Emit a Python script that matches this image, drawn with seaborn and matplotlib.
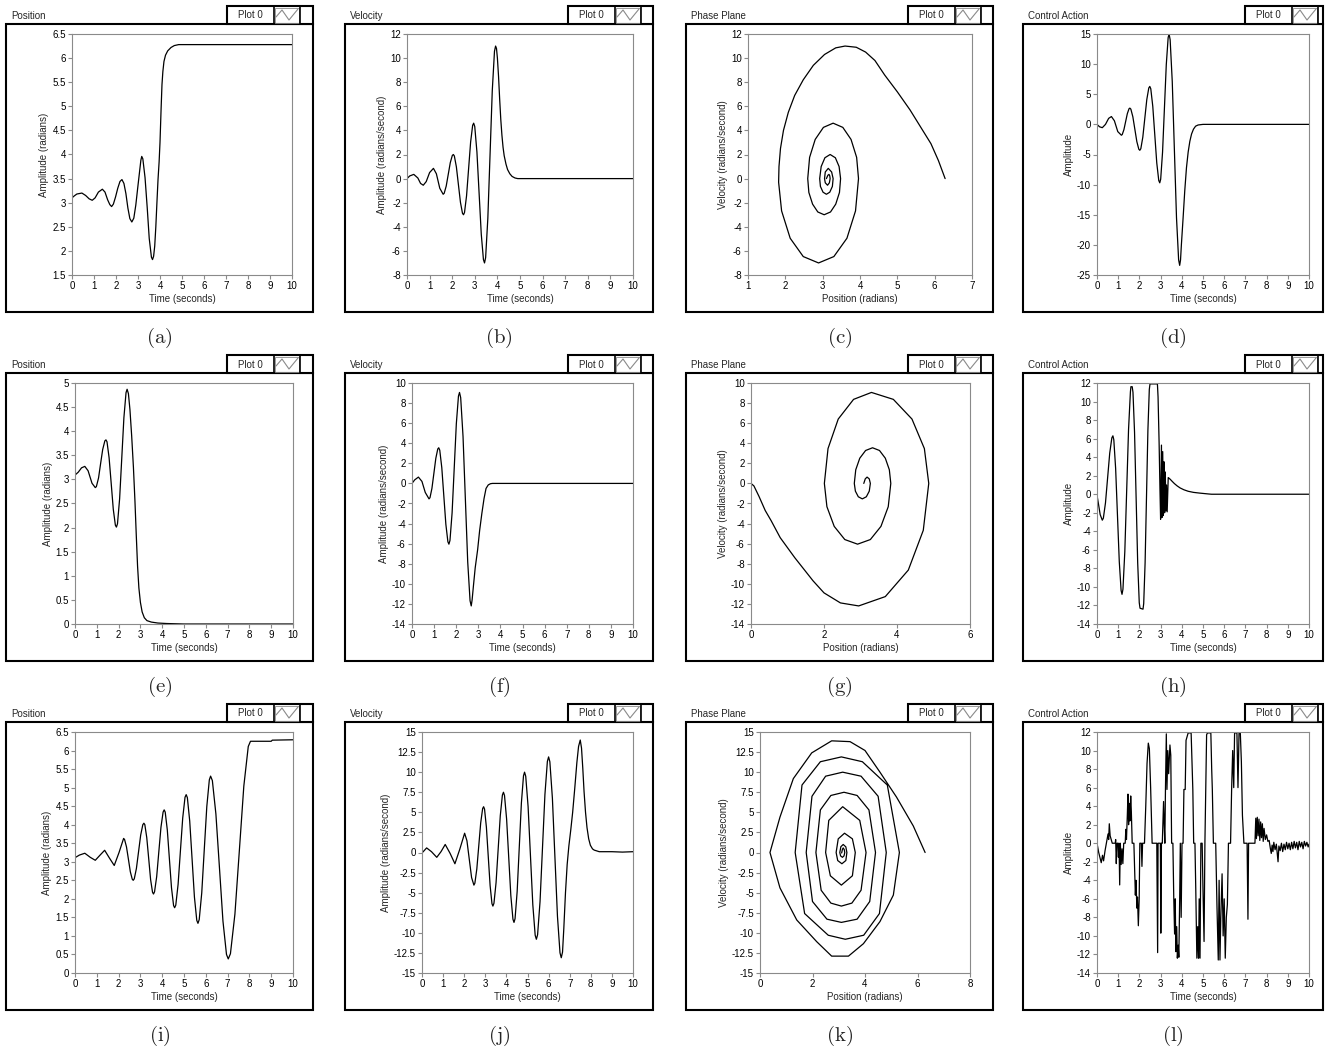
"""
LabVIEW-style pendulum swing-up panels: position, velocity, phase plane,
control action for three controller runs (a)-(l).
"""

import matplotlib
matplotlib.use("Agg")
import matplotlib.pyplot as plt
from matplotlib.patches import Rectangle
from matplotlib.ticker import MultipleLocator, FuncFormatter
import seaborn as sns


# ──────────────────────────────────────────────
# 1. DATA  ((t, value) or (position, velocity))
# ──────────────────────────────────────────────

pos_a = [(0.00, 3.10), (0.10, 3.14), (0.22, 3.18), (0.45, 3.20), (0.62, 3.15), (0.78, 3.08),
         (0.92, 3.05), (1.05, 3.10), (1.20, 3.22), (1.38, 3.28), (1.50, 3.22), (1.62, 3.06),
         (1.72, 2.96), (1.80, 2.92), (1.88, 2.97), (1.98, 3.12), (2.08, 3.30), (2.18, 3.44),
         (2.27, 3.48), (2.36, 3.40), (2.45, 3.19), (2.54, 2.89), (2.63, 2.67), (2.72, 2.60),
         (2.81, 2.68), (2.90, 2.95), (2.99, 3.32), (3.08, 3.68), (3.13, 3.88), (3.17, 3.96),
         (3.22, 3.91), (3.32, 3.52), (3.42, 2.89), (3.51, 2.26), (3.61, 1.87), (3.66, 1.82),
         (3.71, 1.89), (3.76, 2.10), (3.81, 2.50), (3.86, 3.00), (3.91, 3.48), (3.96, 3.85),
         (4.00, 4.25), (4.05, 4.95), (4.09, 5.45), (4.13, 5.72), (4.18, 5.93), (4.25, 6.06),
         (4.35, 6.15), (4.50, 6.22), (4.65, 6.26), (4.85, 6.28), (10.0, 6.28)]

vel_b = [(0.00, 0.00), (0.12, 0.22), (0.30, 0.35), (0.48, 0.05), (0.60, -0.40), (0.72, -0.55),
         (0.85, -0.25), (1.00, 0.50), (1.17, 0.85), (1.30, 0.40), (1.45, -0.80), (1.60, -1.30),
         (1.645, -1.22), (1.735, -0.62), (1.825, 0.35), (1.915, 1.32), (2.005, 1.92), (2.05, 2.00),
         (2.095, 1.88), (2.185, 0.97), (2.275, -0.50), (2.365, -1.97), (2.455, -2.88), (2.50, -3.00),
         (2.545, -2.81), (2.635, -1.43), (2.725, 0.80), (2.815, 3.03), (2.905, 4.42), (2.95, 4.60),
         (2.998, 4.32), (3.094, 2.21), (3.19, -1.20), (3.286, -4.61), (3.382, -6.72), (3.43, -7.00),
         (3.479, -6.56), (3.577, -3.29), (3.675, 2.00), (3.773, 7.29), (3.871, 10.57), (3.92, 11.00),
         (3.96, 10.80), (4.00, 10.00), (4.05, 8.50), (4.10, 6.60), (4.15, 4.90), (4.20, 3.60),
         (4.25, 2.60), (4.30, 1.90), (4.38, 1.20), (4.45, 0.75), (4.55, 0.40), (4.65, 0.18),
         (4.78, 0.05), (4.90, 0.00), (10.0, 0.00)]

phase_c = [(3.10, 0.00), (3.14, 0.28), (3.17, 0.35), (3.19, 0.22), (3.20, 0.00),
           (3.18, -0.35), (3.13, -0.55), (3.07, -0.35), (3.05, 0.00),
           (3.07, 0.55), (3.15, 0.85), (3.24, 0.55), (3.28, 0.00),
           (3.26, -0.65), (3.19, -1.13), (3.10, -1.30), (3.01, -1.13), (2.94, -0.65), (2.92, 0.00),
           (2.96, 1.00), (3.06, 1.73), (3.20, 2.00), (3.34, 1.73), (3.44, 1.00), (3.48, 0.00),
           (3.45, -1.15), (3.35, -2.12), (3.21, -2.77), (3.04, -3.00), (2.87, -2.77), (2.73, -2.12),
           (2.63, -1.15), (2.60, 0.00),
           (2.65, 1.76), (2.80, 3.25), (3.02, 4.25), (3.28, 4.60), (3.54, 4.25), (3.76, 3.25),
           (3.91, 1.76), (3.96, 0.00),
           (3.88, -2.68), (3.65, -4.95), (3.30, -6.47), (2.89, -7.00), (2.48, -6.47), (2.13, -4.95),
           (1.90, -2.68), (1.82, -0.30),
           (1.83, 1.00), (1.87, 2.50), (1.95, 4.00), (2.08, 5.50), (2.25, 6.90), (2.48, 8.20),
           (2.75, 9.40), (3.05, 10.30), (3.35, 10.85), (3.60, 11.00), (3.90, 10.90), (4.15, 10.50),
           (4.40, 9.80), (4.66, 8.60), (5.00, 7.20), (5.34, 5.70), (5.62, 4.30), (5.90, 2.90),
           (6.10, 1.50), (6.28, 0.00)]

ctrl_d = [(0.00, 0.00), (0.12, -0.40), (0.25, -0.55), (0.40, 0.00), (0.55, 1.00), (0.68, 1.30),
          (0.82, 0.60), (0.98, -1.20), (1.15, -1.80), (1.19, -1.69), (1.27, -0.87), (1.35, 0.45),
          (1.43, 1.77), (1.51, 2.59), (1.55, 2.70), (1.597, 2.53), (1.691, 1.26), (1.785, -0.80),
          (1.879, -2.86), (1.973, -4.13), (2.02, -4.30), (2.067, -4.04), (2.161, -2.12),
          (2.255, 1.00), (2.349, 4.12), (2.443, 6.04), (2.49, 6.30), (2.537, 5.91), (2.631, 3.00),
          (2.725, -1.70), (2.819, -6.40), (2.913, -9.31), (2.96, -9.70), (3.004, -9.10),
          (3.092, -4.61), (3.18, 2.65), (3.268, 9.91), (3.356, 14.40), (3.40, 15.00),
          (3.45, 14.06), (3.55, 7.09), (3.65, -4.20), (3.75, -15.49), (3.85, -22.48),
          (3.90, -23.40), (3.94, -22.50), (3.98, -20.00), (4.02, -17.80), (4.06, -15.60),
          (4.14, -11.00), (4.22, -7.20), (4.30, -4.60), (4.38, -2.80), (4.46, -1.60),
          (4.55, -0.80), (4.65, -0.30), (4.77, -0.10), (5.00, 0.00), (10.0, 0.00)]

pos_e = [(0.00, 3.09), (0.15, 3.15), (0.30, 3.24), (0.45, 3.27), (0.60, 3.18), (0.78, 2.92),
         (0.93, 2.83), (0.98, 2.85), (1.08, 3.03), (1.175, 3.33), (1.27, 3.62), (1.37, 3.80),
         (1.42, 3.82), (1.468, 3.78), (1.564, 3.45), (1.66, 2.92), (1.756, 2.38), (1.852, 2.05),
         (1.90, 2.01), (1.949, 2.08), (2.047, 2.60), (2.145, 3.44), (2.243, 4.28), (2.341, 4.80),
         (2.39, 4.87), (2.45, 4.78), (2.52, 4.45), (2.60, 3.90), (2.68, 3.25), (2.75, 2.55),
         (2.81, 1.85), (2.87, 1.20), (2.93, 0.75), (3.00, 0.45), (3.08, 0.25), (3.18, 0.13),
         (3.30, 0.07), (3.50, 0.04), (3.80, 0.02), (4.20, 0.01), (5.00, 0.00), (10.0, 0.00)]

vel_f = [(0.00, 0.00), (0.12, 0.35), (0.29, 0.63), (0.45, 0.20), (0.60, -0.90), (0.77, -1.54),
         (0.814, -1.42), (0.902, -0.49), (0.99, 1.00), (1.078, 2.50), (1.166, 3.43), (1.21, 3.55),
         (1.256, 3.31), (1.348, 1.57), (1.44, -1.25), (1.532, -4.07), (1.624, -5.81), (1.67, -6.05),
         (1.718, -5.68), (1.814, -2.94), (1.91, 1.50), (2.006, 5.95), (2.102, 8.69), (2.15, 9.06),
         (2.203, 8.54), (2.309, 4.68), (2.415, -1.57), (2.521, -7.82), (2.627, -11.68),
         (2.68, -12.20), (2.72, -11.60), (2.78, -10.20), (2.86, -8.40), (2.97, -6.60),
         (3.06, -4.70), (3.16, -3.00), (3.26, -1.50), (3.35, -0.50), (3.45, -0.15),
         (3.55, -0.03), (3.64, 0.00), (10.0, 0.00)]

phase_g = [(3.09, 0.00), (3.13, 0.45), (3.18, 0.63), (3.24, 0.45), (3.27, 0.00),
           (3.24, -0.77), (3.16, -1.33), (3.05, -1.54), (2.94, -1.33), (2.86, -0.77), (2.83, 0.00),
           (2.87, 1.36), (2.98, 2.51), (3.14, 3.28), (3.33, 3.55), (3.52, 3.28), (3.68, 2.51),
           (3.79, 1.36), (3.83, 0.00),
           (3.76, -2.32), (3.56, -4.28), (3.27, -5.59), (2.92, -6.05), (2.57, -5.59), (2.28, -4.28),
           (2.08, -2.32), (2.01, 0.00),
           (2.11, 3.47), (2.39, 6.41), (2.81, 8.37), (3.30, 9.06), (3.90, 8.37), (4.41, 6.41),
           (4.75, 3.47), (4.87, 0.00),
           (4.72, -4.67), (4.31, -8.63), (3.68, -11.27), (2.95, -12.20), (2.45, -11.90),
           (2.00, -10.90), (1.70, -9.70), (1.20, -7.40), (0.80, -5.40), (0.55, -3.70),
           (0.39, -2.70), (0.22, -1.30), (0.08, -0.25), (0.00, 0.00)]

ctrl_h = [(0.00, -0.10), (0.08, -1.20), (0.15, -2.20), (0.25, -2.80), (0.30, -2.58), (0.40, -0.93),
          (0.50, 1.75), (0.60, 4.43), (0.70, 6.08), (0.75, 6.30), (0.793, 5.88), (0.879, 2.78),
          (0.965, -2.25), (1.051, -7.28), (1.137, -10.38), (1.18, -10.80), (1.224, -10.25),
          (1.312, -6.19), (1.40, 0.40), (1.488, 6.99), (1.576, 11.05), (1.60, 11.60),
          (1.66, 11.60), (1.697, 11.00), (1.771, 6.68), (1.845, -0.35), (1.919, -7.38),
          (1.993, -11.70), (2.03, -12.30), (2.17, -12.40), (2.203, -11.80), (2.269, -7.40),
          (2.335, -0.25), (2.401, 6.90), (2.467, 11.30), (2.50, 11.90), (2.85, 11.90),
          (2.88, 10.50), (2.93, 5.50), (2.97, 0.50), (3.00, -2.70), (3.04, 5.30), (3.07, -2.50),
          (3.10, 4.60), (3.13, -2.30), (3.16, 3.50), (3.19, -2.00), (3.22, 2.40), (3.25, -1.80),
          (3.28, 1.00), (3.31, -1.90), (3.36, 1.80), (3.45, 1.62), (3.55, 1.38), (3.65, 1.15),
          (3.78, 0.90), (3.92, 0.68), (4.10, 0.48), (4.30, 0.32), (4.55, 0.20), (4.85, 0.12),
          (5.25, 0.03), (5.40, 0.00), (10.0, 0.00)]

pos_i = [(0.00, 3.11), (0.20, 3.18), (0.45, 3.23), (0.70, 3.12), (0.93, 3.04), (1.15, 3.18),
         (1.36, 3.31), (1.58, 3.10), (1.80, 2.90), (2.02, 3.25), (2.23, 3.63),
         (2.274, 3.60), (2.362, 3.40), (2.45, 3.07), (2.538, 2.73), (2.626, 2.53), (2.67, 2.50),
         (2.719, 2.54), (2.817, 2.82), (2.915, 3.27), (3.013, 3.72), (3.111, 4.00), (3.16, 4.04),
         (3.204, 4.00), (3.292, 3.65), (3.38, 3.09), (3.468, 2.52), (3.556, 2.18), (3.60, 2.13),
         (3.649, 2.19), (3.747, 2.60), (3.845, 3.27), (3.943, 3.93), (4.041, 4.34), (4.09, 4.40),
         (4.138, 4.34), (4.234, 3.86), (4.33, 3.08), (4.426, 2.30), (4.522, 1.82), (4.57, 1.76),
         (4.623, 1.83), (4.729, 2.39), (4.835, 3.29), (4.941, 4.18), (5.047, 4.74), (5.10, 4.81),
         (5.154, 4.73), (5.262, 4.10), (5.37, 3.08), (5.478, 2.05), (5.586, 1.42), (5.64, 1.34),
         (5.698, 1.44), (5.814, 2.16), (5.93, 3.33), (6.046, 4.49), (6.162, 5.21), (6.22, 5.31),
         (6.301, 5.19), (6.463, 4.29), (6.625, 2.85), (6.787, 1.40), (6.949, 0.50), (7.03, 0.38),
         (7.13, 0.52), (7.336, 1.59), (7.54, 3.31), (7.744, 5.04), (7.948, 6.11), (8.05, 6.25),
         (9.00, 6.25), (9.05, 6.28), (10.0, 6.29)]

vel_j = [(0.00, -0.06), (0.22, 0.57), (0.45, 0.10), (0.70, -0.60), (0.90, 0.10), (1.10, 1.00),
         (1.33, -0.10), (1.56, -1.40), (1.79, 0.40), (2.02, 2.40), (2.13, 1.46), (2.24, -0.83),
         (2.35, -3.12), (2.46, -4.06), (2.506, -3.82), (2.598, -2.05), (2.69, 0.82), (2.782, 3.69),
         (2.874, 5.47), (2.92, 5.70), (2.964, 5.40), (3.052, 3.15), (3.14, -0.49), (3.228, -4.12),
         (3.316, -6.37), (3.36, -6.67), (3.41, -6.32), (3.51, -3.75), (3.61, 0.42), (3.71, 4.58),
         (3.81, 7.15), (3.86, 7.50), (3.91, 7.10), (4.01, 4.16), (4.11, -0.60), (4.21, -5.36),
         (4.31, -8.30), (4.36, -8.70), (4.41, -8.24), (4.51, -4.85), (4.61, 0.65), (4.71, 6.15),
         (4.81, 9.54), (4.86, 10.00), (4.916, 9.49), (5.028, 5.72), (5.14, -0.40), (5.252, -6.52),
         (5.364, -10.30), (5.42, -10.80), (5.478, -10.24), (5.594, -6.12), (5.71, 0.55),
         (5.826, 7.22), (5.942, 11.34), (6.00, 11.90), (6.06, 11.29), (6.18, 6.75), (6.30, -0.60),
         (6.42, -7.95), (6.54, -12.49), (6.60, -13.10), (6.66, -12.40), (6.72, -9.50),
         (6.80, -5.00), (6.88, -1.50), (6.96, 0.80), (7.05, 2.80), (7.14, 5.00), (7.24, 8.00),
         (7.34, 11.20), (7.42, 13.20), (7.50, 14.00), (7.56, 13.00), (7.62, 10.50), (7.68, 7.60),
         (7.75, 5.00), (7.82, 3.10), (7.90, 1.70), (7.98, 0.90), (8.08, 0.45), (8.16, 0.30),
         (8.40, 0.10), (9.00, 0.10), (9.50, 0.05), (10.0, 0.10)]

phase_k = [(3.11, -0.06), (3.14, 0.40), (3.17, 0.57), (3.21, 0.35), (3.23, 0.00),
           (3.20, -0.42), (3.14, -0.60), (3.07, -0.42), (3.04, 0.00),
           (3.08, 0.72), (3.17, 1.00), (3.27, 0.70), (3.31, 0.00),
           (3.27, -1.00), (3.12, -1.40), (2.96, -1.00), (2.90, 0.00),
           (2.98, 1.70), (3.22, 2.40), (3.52, 1.70), (3.63, 0.00),
           (3.52, -2.90), (3.10, -4.06), (2.68, -2.90), (2.50, 0.00),
           (2.62, 4.00), (3.15, 5.70), (3.80, 4.00), (4.04, 0.00),
           (3.85, -4.70), (3.50, -6.30), (3.10, -6.67), (2.70, -6.30), (2.33, -4.70), (2.13, 0.00),
           (2.30, 5.30), (2.70, 7.10), (3.20, 7.50), (3.70, 7.10), (4.15, 5.30), (4.40, 0.00),
           (4.18, -6.10), (3.70, -8.30), (3.10, -8.70), (2.55, -8.30), (2.00, -6.10), (1.76, 0.00),
           (1.98, 7.00), (2.50, 9.50), (3.15, 10.00), (3.85, 9.50), (4.50, 7.00), (4.81, 0.00),
           (4.55, -7.60), (3.95, -10.30), (3.25, -10.80), (2.60, -10.30), (1.70, -7.60), (1.34, 0.00),
           (1.60, 8.40), (2.30, 11.30), (3.10, 11.90), (3.90, 11.30), (4.85, 8.40), (5.31, 0.00),
           (5.08, -5.30), (4.57, -8.60), (3.94, -11.35), (3.37, -12.90), (2.73, -12.90),
           (2.16, -11.10), (1.40, -8.40), (0.76, -4.40), (0.38, 0.00),
           (0.76, 4.40), (1.27, 9.20), (1.97, 12.40), (2.73, 13.90), (3.43, 13.80), (4.00, 12.70),
           (4.57, 10.00), (5.20, 6.90), (5.84, 3.30), (6.29, 0.00)]

ctrl_l = [(0.00, 0.0), (0.08, -1.0), (0.20, -2.1), (0.26, -1.3), (0.31, -1.9), (0.38, -0.8),
          (0.46, 0.2), (0.52, 1.0), (0.55, 0.4), (0.58, 2.1), (0.62, 0.8), (0.68, 0.3),
          (0.72, 0.0), (0.86, 0.0), (0.88, 0.4), (0.91, -2.2), (0.94, 0.0), (0.99, 0.0),
          (1.01, -1.5), (1.04, 0.0), (1.07, -4.5), (1.10, 0.0), (1.14, -2.3), (1.18, -0.6),
          (1.22, -2.2), (1.26, 0.0), (1.33, 0.0), (1.36, 1.5), (1.39, 0.4), (1.43, 3.0),
          (1.46, 5.3), (1.49, 2.0), (1.52, 4.3), (1.55, 2.4), (1.59, 5.1), (1.62, 3.4),
          (1.66, 0.0), (1.74, 0.0), (1.77, -2.5), (1.81, -5.6), (1.84, -4.0), (1.88, -7.0),
          (1.91, -5.8), (1.95, -8.9), (1.99, -6.0), (2.02, 0.0), (2.09, 0.0), (2.12, -2.5),
          (2.15, 0.0), (2.24, 0.0), (2.30, 4.0), (2.36, 8.6), (2.42, 10.8), (2.47, 10.2),
          (2.53, 6.0), (2.60, 0.0), (2.82, 0.0), (2.84, -6.0), (2.86, -11.8), (2.88, 0.0),
          (2.99, 0.0), (3.01, -9.7), (3.04, 0.0), (3.08, 0.0), (3.11, 2.2), (3.14, 4.5),
          (3.17, 2.0), (3.20, 0.0), (3.23, 6.0), (3.27, 11.8), (3.30, 5.8), (3.34, 10.0),
          (3.38, 7.5), (3.44, 10.6), (3.48, 9.5), (3.52, 0.0), (3.58, 0.0), (3.62, -5.8),
          (3.66, -9.8), (3.69, -6.0), (3.72, -11.7), (3.76, -9.0), (3.79, -12.4), (3.83, -11.0),
          (3.86, -12.3), (3.90, -6.0), (3.93, 0.0), (3.97, -8.0), (4.01, 0.0), (4.06, 0.0),
          (4.10, 5.8), (4.16, 5.8), (4.20, 11.1), (4.30, 11.9), (4.44, 11.9), (4.48, 9.0),
          (4.52, 5.8), (4.56, 0.0), (4.62, 0.0), (4.66, -5.1), (4.71, -12.4), (4.75, -9.0),
          (4.79, -12.4), (4.82, -6.0), (4.86, -12.4), (4.90, 0.0), (4.96, 0.0), (5.00, -5.1),
          (5.05, -10.6), (5.09, 0.0), (5.13, 6.0), (5.17, 11.7), (5.21, 11.9), (5.37, 11.9),
          (5.41, 8.0), (5.44, 5.8), (5.49, 0.0), (5.60, 0.0), (5.66, -6.9), (5.72, -12.6),
          (5.76, -4.0), (5.80, -12.6), (5.84, -8.0), (5.90, -3.3), (5.95, -10.0), (6.00, -6.0),
          (6.05, -12.4), (6.10, -8.0), (6.15, -6.6), (6.20, 0.0), (6.30, 0.0), (6.35, 5.8),
          (6.40, 10.0), (6.45, 6.0), (6.49, 11.9), (6.60, 11.9), (6.65, 6.0), (6.70, 11.9),
          (6.76, 11.9), (6.81, 8.8), (6.86, 3.0), (6.93, 0.0), (7.08, 0.0), (7.12, -8.2),
          (7.15, 0.0), (7.45, 0.0), (7.49, 2.7), (7.52, 0.5), (7.56, 2.8), (7.60, 0.8),
          (7.64, 2.6), (7.68, 0.3), (7.72, 2.3), (7.76, 0.6), (7.80, 2.1), (7.84, 0.2),
          (7.88, 1.6), (7.94, 0.4), (8.00, 0.9), (8.06, 0.2), (8.12, 0.3), (8.18, -0.6),
          (8.22, -1.1), (8.26, -0.2), (8.30, -0.9), (8.34, 0.1), (8.40, -0.7), (8.46, -0.1),
          (8.50, -1.0), (8.54, -2.0), (8.58, -0.3), (8.64, -0.8), (8.70, 0.0), (8.76, -0.9),
          (8.82, -0.1), (8.88, -0.7), (8.94, 0.1), (9.00, -0.6), (9.06, 0.0), (9.12, -0.7),
          (9.18, 0.1), (9.24, -0.6), (9.30, 0.2), (9.36, -0.5), (9.42, 0.1), (9.48, -0.7),
          (9.54, 0.2), (9.60, -0.4), (9.66, 0.1), (9.72, -0.6), (9.78, 0.2), (9.84, -0.3),
          (9.90, 0.1), (9.96, -0.4), (10.0, -0.1)]

TITLES = ["Position", "Velocity", "Phase Plane", "Control Action"]
YLABELS = ["Amplitude (radians)", "Amplitude (radians/second)",
           "Velocity (radians/second)", "Amplitude"]
XLABELS = ["Time (seconds)", "Time (seconds)", "Position (radians)", "Time (seconds)"]
CAPTIONS = "abcdefghijkl"

# per-panel data, axis limits and tick steps: (data, xlim, xstep, ylim, ystep)
PANELS = [
    (pos_a,   (0, 10), 1, (1.5, 6.5), 0.5),
    (vel_b,   (0, 10), 1, (-8, 12), 2),
    (phase_c, (1, 7),  1, (-8, 12), 2),
    (ctrl_d,  (0, 10), 1, (-25, 15), 5),
    (pos_e,   (0, 10), 1, (0, 5), 0.5),
    (vel_f,   (0, 10), 1, (-14, 10), 2),
    (phase_g, (0, 6),  2, (-14, 10), 2),
    (ctrl_h,  (0, 10), 1, (-14, 12), 2),
    (pos_i,   (0, 10), 1, (0, 6.5), 0.5),
    (vel_j,   (0, 10), 1, (-15, 15), 2.5),
    (phase_k, (0, 8),  2, (-15, 15), 2.5),
    (ctrl_l,  (0, 10), 1, (-14, 12), 2),
]


# ──────────────────────────────────────────────
# 2. LAYOUT (pixel geometry of the LabVIEW panels)
# ──────────────────────────────────────────────

W, H = 1333, 1053
COL_FRAME = [(6, 313), (345, 653), (686, 993), (1023, 1323)]
LEGEND_LEFT = [227, 568, 908, 1245]
ROW_TOP = [24, 373, 722]
PLOT_LR = [(72, 292), (407, 633), (748, 972), (1097, 1309),
           (75, 293), (412, 633), (751, 970), (1097, 1309),
           (75, 293), (422, 633), (760, 970), (1097, 1309)]

GRAY = "#8a8a8a"
FS = 7


def px_rect(left, top, right, bottom):
    return [left / W, 1 - bottom / H, (right - left) / W, (bottom - top) / H]


def tick_fmt(v, _pos):
    s = f"{round(v, 6):g}"
    return "0" if s == "-0" else s


# ──────────────────────────────────────────────
# 3. DRAW
# ──────────────────────────────────────────────

sns.set_theme(style="ticks")
plt.rcParams["font.family"] = ["Liberation Sans", "DejaVu Sans"]
plt.rcParams["axes.unicode_minus"] = False
plt.rcParams["mathtext.fontset"] = "cm"

fig = plt.figure(figsize=(W / 100, H / 100), dpi=100)
fig.patch.set_facecolor("white")

ov = fig.add_axes([0, 0, 1, 1])
ov.set_xlim(0, W)
ov.set_ylim(H, 0)
ov.axis("off")

for i, (data, xlim, xstep, ylim, ystep) in enumerate(PANELS):
    row, col = divmod(i, 4)
    fl, fr = COL_FRAME[col]
    ft = ROW_TOP[row]
    fb = ft + 288

    # panel frame + title + caption
    ov.add_patch(Rectangle((fl, ft), fr - fl, fb - ft, fill=False, ec="black", lw=1.5))
    ov.text(fl + 5, ft - 8, TITLES[col], fontsize=FS, va="center", ha="left")
    ov.text((fl + fr) / 2, fb + 26, rf"$(\mathrm{{{CAPTIONS[i]}}})$",
            fontsize=15, ha="center", va="center")

    # "Plot 0" legend box
    L = LEGEND_LEFT[col]
    lt = ft - 18
    ov.add_patch(Rectangle((L, lt), fr - L, 18, fc="white", ec="black", lw=1.5))
    ov.plot([L + 47, L + 47], [lt, ft], color="black", lw=1.2)
    ov.plot([L + 73, L + 73], [lt, ft], color="black", lw=1.2)
    ov.add_patch(Rectangle((L + 48, lt + 1.5), 24, 15, fill=False, ec=GRAY, lw=0.6))
    ov.plot([L + 49, L + 55, L + 62, L + 71], [ft - 7, lt + 4, ft - 4, lt + 3],
            color=GRAY, lw=0.8)
    ov.text(L + 23.5, lt + 9.5, "Plot 0", fontsize=FS, ha="center", va="center")

    # chart area
    pl, pr = PLOT_LR[i]
    ax = fig.add_axes(px_rect(pl, ft + 10, pr, ft + 251))
    xs, ys = zip(*data)
    sns.lineplot(x=list(xs), y=list(ys), sort=False, estimator=None,
                 color="black", linewidth=0.9, legend=False, ax=ax)

    ax.set_xlim(*xlim)
    ax.set_ylim(*ylim)
    ax.xaxis.set_major_locator(MultipleLocator(xstep))
    ax.yaxis.set_major_locator(MultipleLocator(ystep))
    ax.xaxis.set_major_formatter(FuncFormatter(tick_fmt))
    ax.yaxis.set_major_formatter(FuncFormatter(tick_fmt))
    ax.tick_params(axis="both", direction="out", length=3, width=0.8, color=GRAY,
                   labelcolor="black", labelsize=FS, pad=1.5)
    for s in ax.spines.values():
        s.set_visible(True)
        s.set_color(GRAY)
        s.set_linewidth(0.8)
    ax.set_xlabel(XLABELS[col], fontsize=FS, labelpad=2)
    ax.set_ylabel(YLABELS[col], fontsize=FS, labelpad=2)
    ax.grid(False)

fig.savefig("out.png", dpi=100)
plt.close(fig)
